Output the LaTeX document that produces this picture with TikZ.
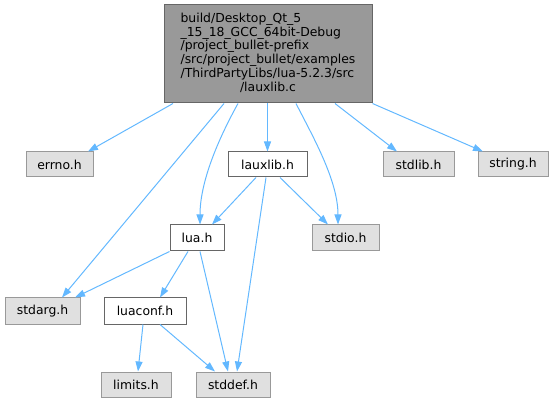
\documentclass[tikz,border=0pt]{standalone}
\usepackage{fontspec}
\setmainfont{DejaVu Sans}
\usetikzlibrary{arrows.meta, calc}
\definecolor{EdgeBlue}{HTML}{63B8FF}
\definecolor{FileGray}{HTML}{E0E0E0}
\definecolor{MidGray}{HTML}{999999}
\definecolor{DarkGray}{HTML}{666666}

\tikzset{
  box/.style={draw, line width=1pt, rectangle, inner sep=0pt, minimum height=25pt,
    font=\fontsize{12.4}{13.8}\selectfont},
  sysfile/.style={box, draw=MidGray, fill=FileGray},
  localfile/.style={box, draw=DarkGray, fill=white},
  rootfile/.style={box, draw=DarkGray, fill=MidGray},
  dep/.style={EdgeBlue, line width=1pt, -{Triangle[length=10pt, width=7pt]}}
}

\begin{document}
\begin{tikzpicture}[x=1pt, y=-1pt]
        \useasboundingbox (0,0) rectangle (554,403);
        % Included file nodes
        \node [rootfile, minimum width=208pt, minimum height=98pt] (root) at (268,54)
          {\begin{tabular}{@{}l@{}}build/Desktop\_Qt\_5\\ \_15\_18\_GCC\_64bit-Debug\\ /project\_bullet-prefix\\
           /src/project\_bullet/examples\\ /ThirdPartyLibs/lua-5.2.3/src\\ \multicolumn{1}{@{}c@{}}{/lauxlib.c}\end{tabular}};
        \node [sysfile, minimum width=67pt] (errno) at (59.5,164.5) {errno.h};
        \node [localfile, minimum width=79pt] (lauxlib) at (267.5,164.5) {lauxlib.h};
        \node [sysfile, minimum width=71pt] (stdlib) at (418.5,164.5) {stdlib.h};
        \node [sysfile, minimum width=70pt] (string) at (513,164.5) {string.h};
        \node [localfile, minimum width=54pt, minimum height=26pt] (lua) at (197,238) {lua.h};
        \node [sysfile, minimum width=67pt, minimum height=26pt] (stdio) at (345.5,238) {stdio.h};
        \node [sysfile, minimum width=75pt, minimum height=26pt] (stdarg) at (42.5,311) {stdarg.h};
        \node [localfile, minimum width=82pt, minimum height=26pt] (luaconf) at (145,311) {luaconf.h};
        \node [sysfile, minimum width=70pt] (limits) at (136,384.5) {limits.h};
        \node [sysfile, minimum width=74pt] (stddef) at (233,384.5) {stddef.h};

        % Include edges
        \draw [dep] ([xshift=-95pt]root.south) -- ([xshift=28.5pt]errno.north);
        \draw [dep] ([xshift=-44pt]root.south) -- ([xshift=19.5pt]stdarg.north);
        \draw [dep] ([xshift=-30pt]root.south) .. controls (215,145) and (200,185) .. ([xshift=3pt]lua.north);
        \draw [dep] ([xshift=-0.5pt]root.south) -- (lauxlib.north);
        \draw [dep] ([xshift=28pt]root.south) .. controls (312,135) and (338,180) .. ([xshift=-7.5pt]stdio.north);
        \draw [dep] ([xshift=67pt]root.south) -- ([xshift=-21.5pt]stdlib.north);
        \draw [dep] (root.south east) -- ([xshift=-30pt]string.north);
        \draw [dep] ([xshift=-11.5pt]lauxlib.south) -- ([xshift=15pt]lua.north);
        \draw [dep] ([xshift=12.5pt]lauxlib.south) -- ([xshift=-17.5pt]stdio.north);
        \draw [dep] ([xshift=-1.5pt]lauxlib.south) -- ([xshift=4pt]stddef.north);
        \draw [dep] (lua.south west) -- ([xshift=32.5pt]stdarg.north);
        \draw [dep] ([xshift=-9pt]lua.south) -- ([xshift=15pt]luaconf.north);
        \draw [dep] ([xshift=3pt]lua.south) -- ([xshift=-5pt]stddef.north);
        \draw [dep] ([xshift=-2pt]luaconf.south) -- ([xshift=2pt]limits.north);
        \draw [dep] ([xshift=15pt]luaconf.south) -- ([xshift=-18pt]stddef.north);
    \end{tikzpicture}
\end{document}
